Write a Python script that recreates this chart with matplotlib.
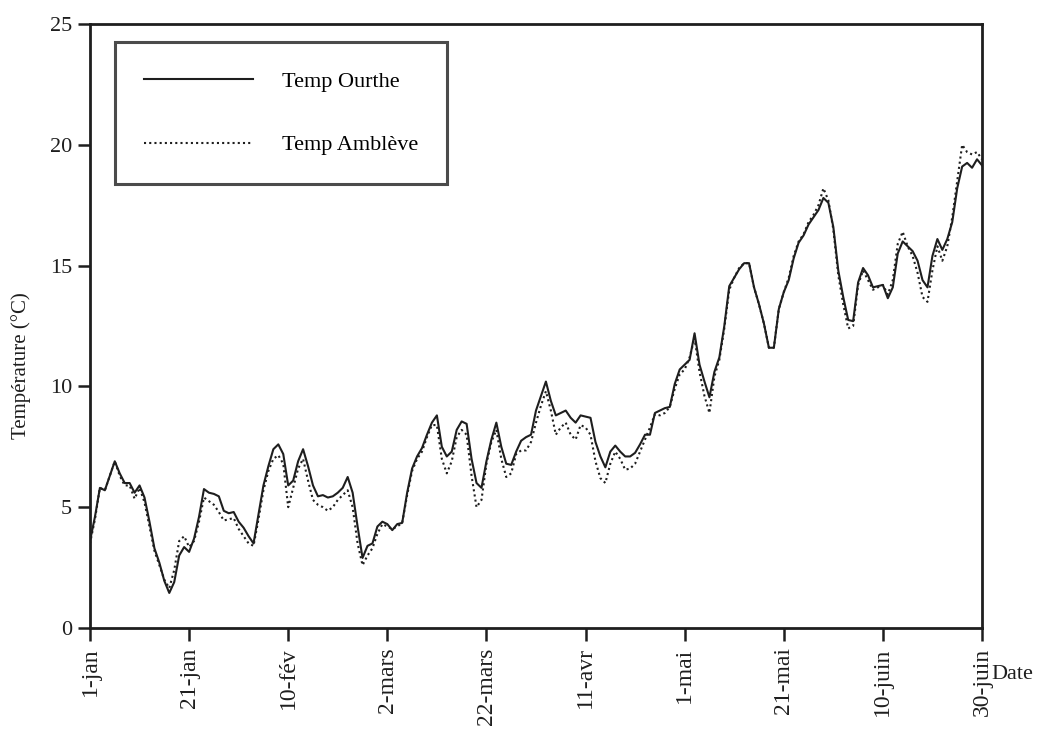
#!/usr/bin/env python3
import matplotlib
matplotlib.use('Agg')
import matplotlib.pyplot as plt
import numpy as np

# daily water temperature (°C), 1-jan .. 30-juin
temp_ourthe = [
    3.6, 4.6, 5.8, 5.7, 6.3, 6.9, 6.4, 6.0, 6.0, 5.6,
    5.9, 5.4, 4.4, 3.3, 2.7, 1.95, 1.45, 1.9, 3.0, 3.35,
    3.15, 3.7, 4.6, 5.75, 5.6, 5.55, 5.45, 4.85, 4.75, 4.8,
    4.4, 4.15, 3.8, 3.5, 4.7, 5.9, 6.7, 7.4, 7.6, 7.2,
    5.9, 6.1, 6.9, 7.4, 6.7, 5.9, 5.45, 5.5, 5.4, 5.45,
    5.6, 5.8, 6.25, 5.6, 4.2, 2.9, 3.4, 3.5, 4.2, 4.4,
    4.3, 4.05, 4.3, 4.35, 5.6, 6.6, 7.1, 7.45, 8.0, 8.5,
    8.8, 7.5, 7.1, 7.3, 8.2, 8.55, 8.45, 7.0, 6.0, 5.8,
    6.9, 7.8, 8.5, 7.5, 6.8, 6.75, 7.3, 7.75, 7.9, 8.0,
    9.0, 9.6, 10.2, 9.4, 8.8, 8.9, 9.0, 8.7, 8.5, 8.8,
    8.75, 8.7, 7.7, 7.1, 6.65, 7.3, 7.55, 7.3, 7.1, 7.1,
    7.25, 7.6, 8.0, 8.0, 8.9, 9.0, 9.1, 9.15, 10.1, 10.7,
    10.9, 11.1, 12.2, 10.9, 10.2, 9.55, 10.6, 11.2, 12.5, 14.15,
    14.5, 14.85, 15.1, 15.1, 14.1, 13.4, 12.6, 11.6, 11.6, 13.2,
    13.9, 14.4, 15.3, 15.95, 16.25, 16.7, 17.0, 17.3, 17.8, 17.6,
    16.6, 14.8, 13.7, 12.75, 12.7, 14.3, 14.9, 14.6, 14.1, 14.15,
    14.2, 13.65, 14.1, 15.5, 16.0, 15.8, 15.6, 15.2, 14.4, 14.1,
    15.4, 16.1, 15.65, 16.1, 16.8, 18.2, 19.1, 19.25, 19.05, 19.4,
    19.15,
]
temp_ambleve = [
    3.5, 4.5, 5.8, 5.7, 6.3, 6.9, 6.3, 5.9, 5.9, 5.35,
    5.8, 5.2, 4.2, 3.2, 2.6, 2.0, 1.65, 2.4, 3.6, 3.8,
    3.35, 3.6, 4.4, 5.4, 5.25, 5.1, 4.8, 4.45, 4.5, 4.55,
    4.1, 3.8, 3.5, 3.4, 4.5, 5.7, 6.5, 7.0, 7.15, 6.8,
    5.0, 5.8, 6.6, 7.0, 6.1, 5.3, 5.1, 5.0, 4.85, 5.0,
    5.3, 5.5, 5.7, 5.0, 3.5, 2.6, 3.0, 3.3, 3.9, 4.3,
    4.2, 4.1, 4.2, 4.35, 5.5, 6.5, 7.0, 7.3, 7.9, 8.4,
    8.4, 7.0, 6.4, 6.9, 7.9, 8.2, 8.0, 6.3, 5.0, 5.3,
    6.8, 7.7, 8.2, 7.0, 6.25, 6.4, 7.2, 7.35, 7.35, 7.7,
    8.5, 9.2, 9.8, 9.0, 8.0, 8.3, 8.5, 8.0, 7.8, 8.4,
    8.3, 8.0, 6.9, 6.2, 6.0, 6.8, 7.3, 7.0, 6.55, 6.6,
    6.8, 7.3, 7.8, 8.3, 8.85, 8.8, 8.9, 9.15, 9.9, 10.5,
    10.7, 11.2, 12.0, 10.6, 9.6, 8.9, 10.4, 11.1, 12.4, 14.0,
    14.5, 14.9, 15.1, 15.1, 14.1, 13.4, 12.6, 11.6, 11.6, 13.2,
    13.9, 14.5, 15.4, 16.0, 16.3, 16.8, 17.1, 17.5, 18.2, 17.7,
    16.5, 14.6, 13.4, 12.4, 12.5, 14.2, 14.8, 14.4, 14.0, 14.1,
    14.2, 13.8, 14.4, 15.9, 16.4, 15.8, 15.4, 14.7, 13.7, 13.5,
    14.8, 15.8, 15.2, 15.8, 17.0, 18.5, 20.0, 19.7, 19.6, 19.7,
    19.4,
]
day = np.arange(len(temp_ourthe))

tick_days = [0, 20, 40, 60, 80, 100, 120, 140, 160, 180]
tick_labels = ['1-jan', '21-jan', '10-fév', '2-mars', '22-mars',
               '11-avr', '1-mai', '21-mai', '10-juin', '30-juin']

plt.rcParams['font.family'] = ['Liberation Serif', 'DejaVu Serif']
INK = '#1e1e1e'

fig = plt.figure(figsize=(10.44, 7.32), dpi=100)
ax = fig.add_axes([0.0862, 0.1421, 0.8544, 0.8251])

ax.plot(day, temp_ourthe, color=INK, linewidth=1.5, linestyle='-', label='Temp Ourthe')
ax.plot(day, temp_ambleve, color=INK, linewidth=1.5, linestyle=(0, (1, 1.5)), label='Temp Amblève')

ax.set_xlim(0, 180)
ax.set_ylim(0, 25)
ax.set_yticks([0, 5, 10, 15, 20, 25])
ax.set_xticks(tick_days)
ax.set_xticklabels(tick_labels, rotation=90)
ax.tick_params(axis='both', direction='out', length=9, width=1.8, colors=INK)
ax.tick_params(axis='x', labelsize=17, pad=5)
ax.tick_params(axis='y', labelsize=16, pad=4)
for s in ax.spines.values():
    s.set_linewidth(2.0)
    s.set_color(INK)

ax.set_ylabel('Température (°C)', fontsize=15, color=INK)
ax.yaxis.set_label_coords(-0.066, 0.435)
fig.text(0.950, 0.078, 'Date', fontsize=16, color=INK, ha='left', va='center')

leg = ax.legend(loc='upper left', bbox_to_anchor=(0.028, 0.970), frameon=True, fancybox=False,
                prop={'size': 16}, handlelength=4.9, handletextpad=1.3,
                labelspacing=1.95, borderpad=1.3, borderaxespad=0)
leg.get_frame().set_edgecolor(INK)
leg.get_frame().set_linewidth(2.2)

plt.savefig('out.png', dpi=100)
